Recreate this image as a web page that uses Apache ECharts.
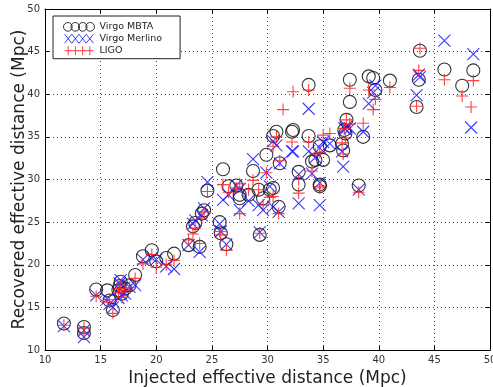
<!DOCTYPE html>
<html>
<head>
<meta charset="utf-8">
<script src="https://cdn.jsdelivr.net/npm/echarts@6/dist/echarts.min.js"></script>
<style>
  html, body { margin: 0; padding: 0; background: #fff; }
  #chart { width: 493px; height: 387px; }
</style>
</head>
<body>
<div id="chart"></div>
<script>
// injected effective distance (Mpc), one entry per injection
var injected = [11.7, 13.5, 13.5, 14.6, 15.6, 15.8, 16.1, 16.6, 16.7, 16.8,
  16.9, 17.2, 17.6, 18.1, 18.8, 19.6, 20.0, 20.9, 21.6, 22.9,
  23.3, 23.5, 23.9, 24.1, 24.3, 24.6, 25.7, 25.8, 26.0, 26.3,
  26.5, 27.2, 27.5, 27.5, 28.3, 28.7, 29.2, 29.3, 29.6, 29.9,
  30.2, 30.5, 30.5, 30.8, 31.0, 31.1, 31.4, 32.2, 32.3, 32.8,
  32.8, 33.7, 33.7, 34.0, 34.3, 34.7, 34.7, 34.7, 35.0, 35.6,
  36.7, 36.8, 36.9, 37.0, 37.1, 37.4, 37.4, 38.2, 38.6, 39.1,
  39.5, 39.7, 41.0, 43.4, 43.6, 43.7, 45.9, 47.5, 48.3, 48.5]

// recovered effective distance (Mpc) per pipeline, null = not recovered
var mbta = [13.1, 12.7, 12.0, 17.1, 17.0, 15.8, 14.7, 17.0, 17.5, 18.0,
  16.6, 17.2, 17.6, 18.8, 21.0, 21.7, 20.4, 20.8, 21.3, 22.3,
  24.5, 24.9, 22.1, 26.0, 26.4, 28.7, 25.0, 23.7, 31.2, 22.4,
  29.2, 29.3, 28.2, 27.8, 28.2, 31.0, 28.8, 23.5, 27.8, 32.9,
  28.8, 35.1, 29.0, 35.6, 26.8, 31.9, null, 35.6, 35.8, 30.9,
  29.4, 41.1, 35.1, 32.1, 32.3, 29.4, 29.2, 33.9, 32.3, 34.0,
  34.2, 33.4, 35.8, 35.4, 37.0, 41.7, 39.1, 29.3, 35.0, 42.1,
  41.9, 40.5, 41.6, 38.5, 41.7, 45.1, 42.9, 41.0, null, 42.8]

var merlino = [12.8, 12.3, 11.5, 16.4, 16.0, 15.4, 15.0, 16.1, 17.8, 18.2,
  16.4, 16.6, 17.4, 17.6, 20.6, 20.8, 20.6, 19.8, 19.5, 22.3,
  24.8, 25.2, 21.5, 25.8, 26.6, 29.7, 24.8, 23.9, 27.6, 22.4,
  28.2, 29.3, 26.4, 28.9, 27.5, 32.4, 27.0, 23.8, 26.4, 30.8,
  29.2, 34.5, 26.8, 34.0, 26.2, 31.9, null, 33.3, 33.3, 30.6,
  27.2, 38.3, 33.3, 30.7, 32.6, 29.6, 27.0, 33.7, 34.4, 34.2,
  33.3, 31.5, 36.0, 35.9, 36.2, null, 36.0, 28.8, 35.6, 38.9,
  40.2, 41.0, null, 39.9, 42.3, 42.0, 46.3, null, 36.1, 44.7]

var ligo = [12.9, 12.6, 11.9, 16.3, 15.6, 15.9, 14.3, 16.7, 17.2, 17.6,
  16.2, 17.0, 17.3, 18.4, 20.1, 21.2, 19.7, 20.0, 20.5, 22.9,
  23.6, 24.3, 22.5, 25.5, 26.2, 28.6, 23.9, 23.5, 29.4, 21.7,
  28.5, 29.0, 26.0, 29.5, 28.8, 29.9, 28.8, 23.7, 27.0, 30.8,
  27.9, 33.9, 28.0, 35.0, 26.0, 32.2, 38.2, 34.4, 40.3, 30.0,
  28.4, 40.5, 34.4, 31.0, 33.0, 29.0, 29.2, 33.2, 35.2, 35.4,
  34.3, 33.0, 36.0, 34.9, 37.0, 40.7, 36.5, 28.5, 36.6, 40.5,
  38.2, 39.4, 40.8, 38.6, 42.8, 45.4, 41.7, 39.8, 38.5, 41.6]

var axisTicks = { min: 10, max: 50, interval: 5 }

function pairs(ys) {
  var out = []
  for (var i = 0; i < injected.length; i++) {
    if (ys[i] !== null) out.push([injected[i], ys[i]])
  }
  return out
}

var crossPath = 'path://M0,0L10,10M10,0L0,10'
var plusPath = 'path://M5,0L5,10M0,5L10,5'
// legend shows four markers per entry, like the original plot
var legendCircles = 'path://M0,5a4.5,4.5 0 1,0 9,0a4.5,4.5 0 1,0 -9,0M7.7,5a4.5,4.5 0 1,0 9,0a4.5,4.5 0 1,0 -9,0M15.4,5a4.5,4.5 0 1,0 9,0a4.5,4.5 0 1,0 -9,0M23.1,5a4.5,4.5 0 1,0 9,0a4.5,4.5 0 1,0 -9,0'
var legendCrosses = 'path://M0,0L8,10M8,0L0,10M8,0L16,10M16,0L8,10M16,0L24,10M24,0L16,10M24,0L32,10M32,0L24,10'
var legendPlus = 'path://M4,0L4,10M12,0L12,10M20,0L20,10M28,0L28,10M0,5L32,5'

var font = 'DejaVu Sans'

function xAxisCfg(pos, showLabel) {
  return {
    type: 'value',
    position: pos,
    min: axisTicks.min,
    max: axisTicks.max,
    interval: axisTicks.interval,
    name: showLabel ? 'Injected effective distance (Mpc)' : '',
    nameLocation: 'middle',
    nameGap: 16,
    nameTextStyle: { fontFamily: font, fontSize: 17, color: '#222' },
    axisLine: { show: true, onZero: false, lineStyle: { color: '#000', width: 1 } },
    axisTick: { show: true, inside: true, length: 4, lineStyle: { color: '#000' } },
    axisLabel: { show: showLabel, fontFamily: font, fontSize: 10, color: '#333', margin: 5 },
    splitLine: { show: showLabel, lineStyle: { color: '#444', type: [1, 3], width: 1 } }
  }
}

function yAxisCfg(pos, showLabel) {
  return {
    type: 'value',
    position: pos,
    min: axisTicks.min,
    max: axisTicks.max,
    interval: axisTicks.interval,
    name: showLabel ? 'Recovered effective distance (Mpc)' : '',
    nameLocation: 'middle',
    nameGap: 17,
    nameMoveOverlap: false,
    nameTextStyle: { fontFamily: font, fontSize: 17, color: '#222' },
    axisLine: { show: true, onZero: false, lineStyle: { color: '#000', width: 1 } },
    axisTick: { show: true, inside: true, length: 4, lineStyle: { color: '#000' } },
    axisLabel: { show: showLabel, fontFamily: font, fontSize: 10, color: '#333', margin: 5 },
    splitLine: { show: showLabel, lineStyle: { color: '#444', type: [1, 3], width: 1 } }
  }
}

var chart = echarts.init(document.getElementById('chart'))
chart.setOption({
  animation: false,
  backgroundColor: '#fff',
  grid: { left: 45, right: 3, top: 9, bottom: 37, outerBoundsMode: 'none', containLabel: false },
  legend: {
    orient: 'vertical',
    left: 53,
    top: 16,
    padding: [4, 18, 1, 8],
    itemGap: -2,
    itemWidth: 31,
    itemHeight: 9,
    backgroundColor: '#fff',
    borderColor: '#222',
    borderWidth: 1,
    textStyle: { fontFamily: font, fontSize: 9.5, lineHeight: 10, color: '#222' },
    data: [
      { name: 'Virgo MBTA', icon: legendCircles, itemStyle: { color: 'none', borderColor: '#111', borderWidth: 1 } },
      { name: 'Virgo Merlino', icon: legendCrosses, itemStyle: { color: 'none', borderColor: '#1a1aff', borderWidth: 1 } },
      { name: 'LIGO', icon: legendPlus, itemStyle: { color: 'none', borderColor: '#ff2020', borderWidth: 1 } }
    ]
  },
  xAxis: [xAxisCfg('bottom', true), xAxisCfg('top', false)],
  yAxis: [yAxisCfg('left', true), yAxisCfg('right', false)],
  series: [
    {
      name: 'Virgo MBTA',
      type: 'scatter',
      symbol: 'circle',
      symbolSize: 13,
      itemStyle: { color: 'none', borderColor: '#111', borderWidth: 1.1, opacity: 0.85 },
      data: pairs(mbta)
    },
    {
      name: 'Virgo Merlino',
      type: 'scatter',
      symbol: crossPath,
      symbolSize: 12,
      itemStyle: { color: 'none', borderColor: '#1a1aff', borderWidth: 1.1, opacity: 0.85 },
      data: pairs(merlino)
    },
    {
      name: 'LIGO',
      type: 'scatter',
      symbol: plusPath,
      symbolSize: 12,
      itemStyle: { color: 'none', borderColor: '#ff2020', borderWidth: 1.1, opacity: 0.85 },
      data: pairs(ligo)
    }
  ]
})
</script>
</body>
</html>
